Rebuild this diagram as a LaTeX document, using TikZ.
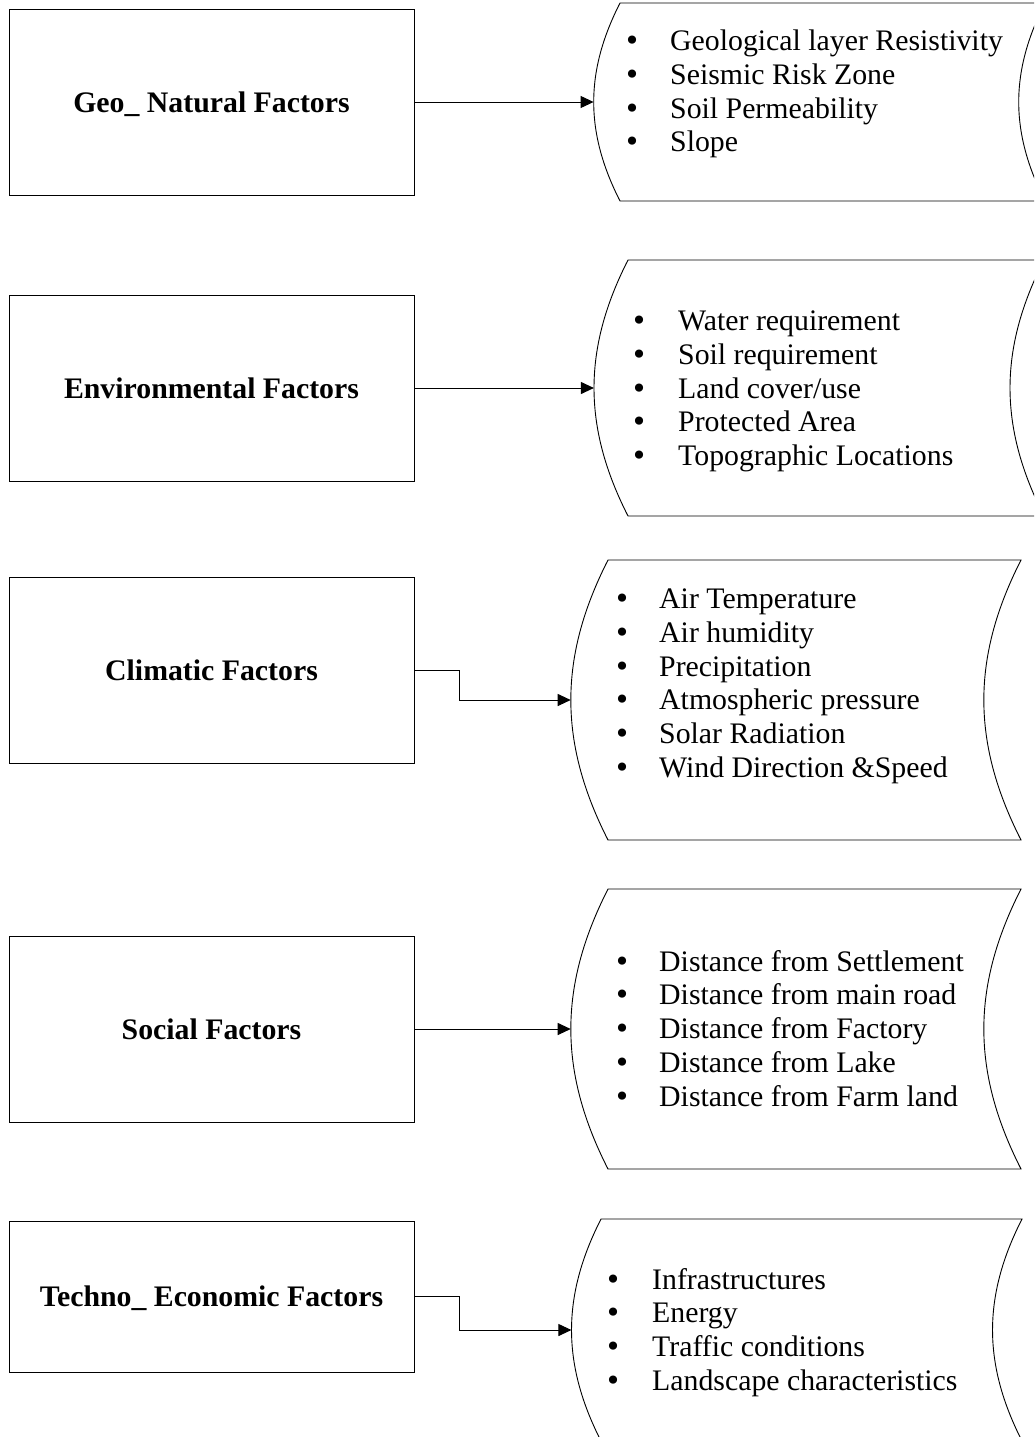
\documentclass[tikz,border=0pt]{standalone}
\usepackage{fontspec}
\setmainfont{Liberation Serif}
\newfontfamily\dotfont{DejaVu Sans}
\usetikzlibrary{arrows.meta}

\tikzset{
  factor/.style={draw=black, line width=0.9pt, minimum width=405pt, minimum height=186pt,
    inner sep=0pt, outer sep=0pt, text height=20pt, text depth=0pt,
    font=\fontsize{29.8}{34}\selectfont\bfseries},
  store/.style={draw=black, line width=0.9pt},
  link/.style={draw=black, line width=1pt, -{Triangle[length=13pt,width=12pt]}},
  entry/.style={anchor=base west, inner sep=0pt, font=\fontsize{29.8}{34}\selectfont},
}

% list bullet, a little heavier than the serif one
\newcommand\bigdot{\hspace*{-3.3pt}{\dotfont\fontsize{28}{34}\selectfont •}}

% stored-data outline: left corner x, right corner x, top y, bottom y
\newcommand\storeshape[4]{%
  \draw[store] (#1,-#3) -- (#2,-#3) to[bend right=27] (#2,-#4)
    -- (#1,-#4) to[bend left=27] cycle;}

% bulleted entries: prefix, bullet left x, indent of the text, first baseline, list
\newcommand\entrylist[5]{%
  \foreach \t [count=\k from 0] in {#5}
    \node[entry] (#1-\k) at (#2, {-#4-33.75*\k}) {\makebox[#3pt][l]{\bigdot}\t};}

\begin{document}
\begin{tikzpicture}[x=1pt,y=1pt]
  \useasboundingbox (0,0) rectangle (1034,-1437);
  \clip (0,0) rectangle (1034,-1437);

  % factor boxes
  \node[factor] (geo)  at (211.5,-102)  {Geo\_ Natural Factors};
  \node[factor] (env)  at (211.5,-388)  {Environmental Factors};
  \node[factor] (clim) at (211.5,-670)  {Climatic Factors};
  \node[factor] (soc)  at (211.5,-1029) {Social Factors};
  \node[factor, minimum height=151pt] (tech) at (211.5,-1296.5) {Techno\_ Economic Factors};

  % stored-data outlines with their entry points
  \storeshape{620}{1045}{3}{201}
  \coordinate (geoS) at (593.6,-102);
  \storeshape{628}{1044}{260}{516}
  \coordinate (envS) at (593.9,-388);
  \storeshape{608}{1021}{560}{840}
  \coordinate (climS) at (570.7,-700);
  \storeshape{608}{1021}{889}{1169}
  \coordinate (socS) at (570.7,-1029);
  \storeshape{601}{1022}{1219}{1441}
  \coordinate (techS) at (571.4,-1330);

  % entries
  \entrylist{g}{627}{43}{50.5}{Geological layer Resistivity, Seismic Risk Zone, Soil Permeability, Slope}
  \entrylist{e}{634}{44}{330.5}{Water requirement, Soil requirement, Land cover/use, Protected Area, Topographic Locations}
  \entrylist{c}{617}{42}{608.5}{Air Temperature, Air humidity, Precipitation, Atmospheric pressure, Solar Radiation, Wind Direction \&Speed}
  \entrylist{s}{617}{42}{971}{Distance from Settlement, Distance from main road, Distance from Factory, Distance from Lake, Distance from Farm land}
  \entrylist{t}{608}{44}{1289}{Infrastructures, Energy, Traffic conditions, Landscape characteristics}

  % connectors
  \draw[link] (geo.east) -- (geoS);
  \draw[link] (env.east) -- (envS);
  \draw[link] (clim.east) -- ++(45,0) |- (climS);
  \draw[link] (soc.east) -- (socS);
  \draw[link] (tech.east) -- ++(45,0) |- (techS);
\end{tikzpicture}
\end{document}
